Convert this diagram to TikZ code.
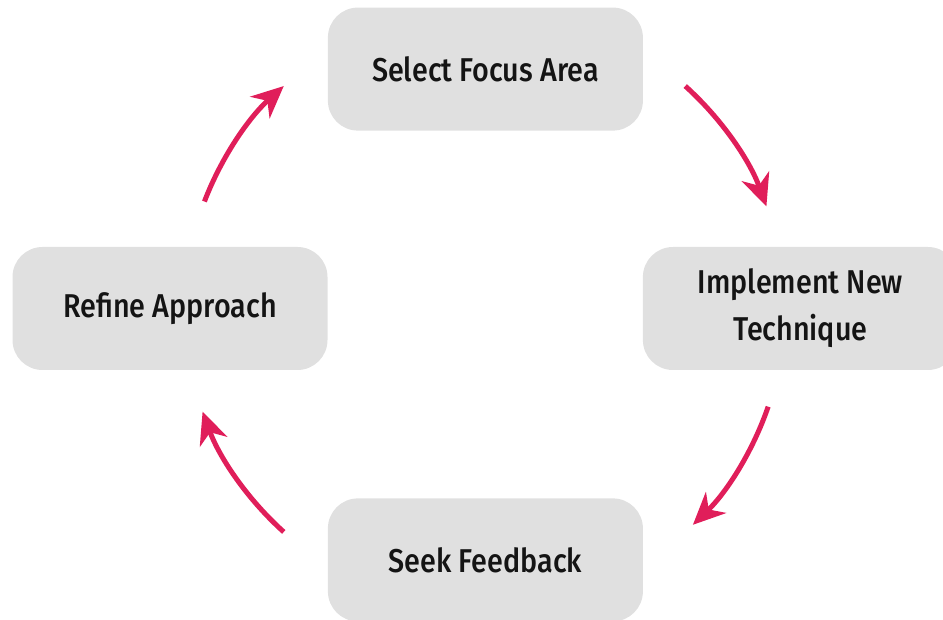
\documentclass[tikz,border=0pt]{standalone}
\usepackage{fontspec}
\setmainfont{Fira Sans Medium}[FakeStretch=0.87]
\usetikzlibrary{positioning,arrows.meta}

\definecolor{boxgray}{RGB}{224,224,224}
\definecolor{loopred}{RGB}{224,30,90}

\begin{document}
\begin{tikzpicture}[x=1pt,y=1pt,
        stepbox/.style={fill=boxgray, rounded corners=30pt, minimum width=315pt, minimum height=123pt,
            inner sep=0pt, align=center, text=black!92, font=\fontsize{33}{47}\selectfont},
        flow/.style={draw=loopred, line width=5pt, -{Stealth[length=32pt,width=29pt,inset=10pt]}}]
        \useasboundingbox (0,0) rectangle (943,619);
        \node[stepbox] (refine) at (170,310.5) {Refine Approach};
        \node[stepbox, above right=116pt and 0pt of refine] (select) {Select Focus Area};
        \node[stepbox, right=315pt of refine] (implement) {Implement New\\Technique};
        \node[stepbox, below right=128pt and 0pt of refine] (seek) {Seek Feedback};
        % the loop runs round this point
        \coordinate (c) at (484.5,310);
        \draw[flow] ([shift={(48:300)}]c) arc[start angle=48, end angle=20, radius=300];
        \draw[flow] ([shift={(-19:300)}]c) arc[start angle=-19, end angle=-46, radius=300];
        \draw[flow] ([shift={(228:300)}]c) arc[start angle=228, end angle=200, radius=300];
        \draw[flow] ([shift={(159:300)}]c) arc[start angle=159, end angle=132, radius=300];
\end{tikzpicture}
\end{document}
